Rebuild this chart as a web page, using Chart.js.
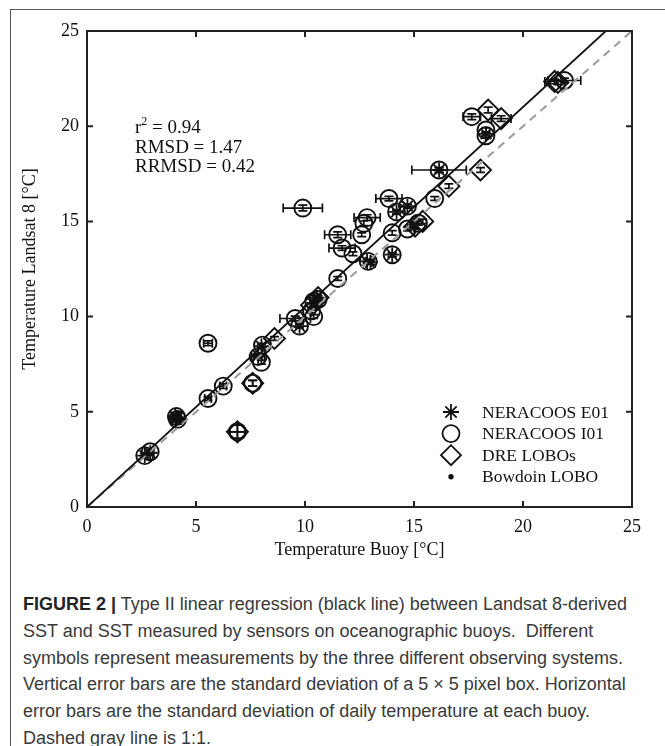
<!DOCTYPE html>
<html>
<head>
<meta charset="utf-8">
<script src="https://cdn.jsdelivr.net/npm/chart.js@4.4.0/dist/chart.umd.min.js"></script>
<style>
  html, body { margin: 0; padding: 0; background: #fff; }
  body { width: 665px; height: 746px; position: relative; overflow: hidden; }
  #marco { position: absolute; left: 10px; top: 9px; width: 670px; height: 760px; border-top: 1.5px solid #555; border-left: 1.5px solid #555; }
  #grafica { position: absolute; left: 0; top: 0; width: 665px; height: 570px; }
  #stats { position: absolute; left: 135px; top: 117px; font-family: "Liberation Serif", "Times New Roman", serif; font-size: 19px; line-height: 19.5px; color: #111; }
  #stats sup { font-size: 12px; line-height: 0; position: relative; top: -1px; }
  #pie { position: absolute; left: 23px; top: 591px; white-space: nowrap; font-family: "Liberation Sans", Arial, sans-serif; font-size: 18px; line-height: 26.8px; color: #3a3a3a; }
  #pie b { color: #222; }
</style>
</head>
<body>
<div id="marco"></div>
<div id="grafica"><canvas id="miGrafica"></canvas></div>
<div id="stats">r<sup>2</sup> = 0.94<br>RMSD = 1.47<br>RRMSD = 0.42</div>
<div id="pie"><b>FIGURE 2 |</b> Type II linear regression (black line) between Landsat 8-derived<br>SST and SST measured by sensors on oceanographic buoys.&nbsp; Different<br>symbols represent measurements by the three different observing systems.<br>Vertical error bars are the standard deviation of a 5 × 5 pixel box. Horizontal<br>error bars are the standard deviation of daily temperature at each buoy.<br>Dashed gray line is 1:1.</div>
<script>
// marcas de los ejes
const marcas = [0, 5, 10, 15, 20, 25];

// NERACOOS E01 (asterisco)
const e01X = [16.15, 14.2, 14.7, 14.0, 12.85, 13.0, 10.4, 10.55, 9.75, 8.0, 7.85, 4.05, 4.15, 4.1, 4.1, 2.65, 2.9, 15.0, 18.3];
const e01Y = [17.7, 15.5, 15.8, 13.25, 12.9, 12.85, 10.7, 11.0, 9.5, 8.45, 7.95, 4.75, 4.7, 4.6, 4.68, 2.7, 2.85, 14.8, 19.6];
const e01ErrX = [1.25, 0, 0, 0, 0, 0, 0, 0, 0, 0, 0, 0, 0, 0, 0, 0, 0, 0, 0];
const e01ErrY = [0.12, 0.1, 0.1, 0.1, 0.1, 0.1, 0.1, 0.1, 0.1, 0.1, 0.1, 0.1, 0.1, 0.1, 0.1, 0.1, 0.1, 0.1, 0.1];

// NERACOOS I01 (circulo)
const i01X = [21.9, 17.65, 18.3, 18.3, 13.85, 15.95, 14.2, 14.7, 9.9, 12.85, 12.7, 11.5, 12.6, 11.7, 12.2, 12.9, 14.0, 14.0, 14.7, 15.2, 11.5, 10.4, 10.6, 10.3, 10.4, 9.55, 9.75, 5.55, 8.05, 7.85, 8.0, 6.25, 5.55, 4.1, 4.15, 2.65, 2.9, 7.6, 6.9, 16.15];
const i01Y = [22.4, 20.5, 19.8, 19.5, 16.2, 16.2, 15.5, 15.8, 15.7, 15.2, 14.9, 14.3, 14.3, 13.6, 13.3, 12.9, 14.4, 13.25, 14.6, 14.9, 12.0, 10.8, 10.9, 10.3, 10.0, 9.9, 9.5, 8.6, 8.5, 7.9, 7.6, 6.35, 5.7, 4.75, 4.6, 2.7, 2.9, 6.5, 3.95, 17.7];
const i01ErrX = [0.75, 0.4, 0, 0, 0.6, 0, 0, 0, 0.9, 0.6, 0, 0.6, 0, 0.6, 0, 0, 0, 0, 0, 0, 0, 0, 0, 0, 0, 0.7, 0, 0.2, 0, 0.3, 0, 0.15, 0.15, 0.15, 0, 0, 0, 0, 0.35, 0];
const i01ErrY = [0.12, 0.15, 0.12, 0.12, 0.12, 0.1, 0.1, 0.1, 0.15, 0.15, 0.12, 0.15, 0.1, 0.12, 0.1, 0.1, 0.12, 0.1, 0.1, 0.1, 0.1, 0.1, 0.1, 0.1, 0.1, 0.12, 0.1, 0.12, 0.1, 0.1, 0.1, 0.12, 0.1, 0.1, 0.1, 0.1, 0.1, 0.15, 0.35, 0.12];

// DRE LOBOs (rombo)
const dreX = [21.45, 21.6, 18.4, 19.0, 18.05, 16.6, 15.4, 15.05, 10.6, 10.3, 8.6, 7.6, 6.9];
const dreY = [22.35, 22.3, 20.85, 20.4, 17.7, 16.85, 15.0, 14.75, 11.0, 10.6, 8.85, 6.5, 3.95];
const dreErrX = [0.45, 0, 0, 0.45, 0, 0, 0, 0, 0, 0, 0, 0, 0.35];
const dreErrY = [0.12, 0.12, 0.15, 0.15, 0.12, 0.12, 0.12, 0.12, 0.1, 0.1, 0.1, 0.15, 0.35];

// Bowdoin LOBO (punto)
const bowX = [7.9, 10.45, 12.9, 4.1];
const bowY = [8.0, 10.6, 12.9, 4.7];

// regresion tipo II y linea 1:1
const regX = [0, 23.8];
const regY = [0, 25];
const unoX = [0, 25];
const unoY = [0, 25];

const puntos = (xs, ys) => xs.map((x, i) => ({ x: x, y: ys[i] }));

const fuente = '"Liberation Serif", "Times New Roman", serif';
const negro = '#111';

// barras de error, dibujadas con las escalas del grafico
const barrasError = {
    id: 'barrasError',
    beforeDatasetsDraw(chart) {
        const ctx = chart.ctx;
        const sx = chart.scales.x, sy = chart.scales.y;
        const tapa = 4.5;
        ctx.save();
        ctx.strokeStyle = negro;
        ctx.lineWidth = 1.7;
        chart.data.datasets.forEach((d) => {
            if (!d.errX) return;
            d.data.forEach((p, i) => {
                const px = sx.getPixelForValue(p.x);
                const py = sy.getPixelForValue(p.y);
                ctx.beginPath();
                if (d.errX[i] > 0) {
                    const x1 = sx.getPixelForValue(p.x - d.errX[i]);
                    const x2 = sx.getPixelForValue(p.x + d.errX[i]);
                    ctx.moveTo(x1, py); ctx.lineTo(x2, py);
                    ctx.moveTo(x1, py - tapa); ctx.lineTo(x1, py + tapa);
                    ctx.moveTo(x2, py - tapa); ctx.lineTo(x2, py + tapa);
                }
                if (d.errY[i] > 0) {
                    const y1 = sy.getPixelForValue(p.y - d.errY[i]);
                    const y2 = sy.getPixelForValue(p.y + d.errY[i]);
                    ctx.moveTo(px, y1); ctx.lineTo(px, y2);
                    ctx.moveTo(px - tapa, y1); ctx.lineTo(px + tapa, y1);
                    ctx.moveTo(px - tapa, y2); ctx.lineTo(px + tapa, y2);
                }
                ctx.stroke();
            });
        });
        ctx.restore();
    }
};

// recuadro con marcas hacia adentro en los cuatro lados
const recuadro = {
    id: 'recuadro',
    afterDraw(chart) {
        const ctx = chart.ctx;
        const a = chart.chartArea;
        const sx = chart.scales.x, sy = chart.scales.y;
        ctx.save();
        ctx.strokeStyle = '#222';
        ctx.lineWidth = 2;
        ctx.strokeRect(a.left, a.top, a.right - a.left, a.bottom - a.top);
        ctx.beginPath();
        marcas.forEach((v) => {
            const px = sx.getPixelForValue(v);
            const py = sy.getPixelForValue(v);
            ctx.moveTo(px, a.bottom); ctx.lineTo(px, a.bottom - 6);
            ctx.moveTo(px, a.top); ctx.lineTo(px, a.top + 6);
            ctx.moveTo(a.left, py); ctx.lineTo(a.left + 6, py);
            ctx.moveTo(a.right, py); ctx.lineTo(a.right - 6, py);
        });
        ctx.stroke();
        ctx.restore();
    }
};

// leyenda dentro del area del grafico, abajo a la derecha
const leyenda = {
    id: 'leyenda',
    afterDraw(chart) {
        const ctx = chart.ctx;
        const a = chart.chartArea;
        const series = chart.data.datasets.filter((d) => d.enLeyenda);
        ctx.save();
        ctx.font = '17.5px ' + fuente;
        ctx.textBaseline = 'middle';
        ctx.textAlign = 'left';
        series.forEach((d, i) => {
            const x = a.right - 181;
            const y = a.bottom - 95 + i * 21.6;
            ctx.strokeStyle = negro;
            ctx.fillStyle = d.leyendaRelleno;
            ctx.lineWidth = 1.8;
            Chart.helpers.drawPoint(ctx, { pointStyle: d.pointStyle, radius: d.leyendaRadio, borderWidth: 1.8, rotation: 0 }, x, y);
            ctx.fillStyle = negro;
            ctx.fillText(d.label, a.right - 150, y + 1);
        });
        ctx.restore();
    }
};

document.addEventListener('DOMContentLoaded', () => {
    const datos = {
        datasets: [
            {
                label: 'regresion',
                data: puntos(regX, regY),
                showLine: true,
                borderColor: negro,
                borderWidth: 1.8,
                pointRadius: 0,
            },
            {
                label: '1:1',
                data: puntos(unoX, unoY),
                showLine: true,
                borderColor: '#9a9a9a',
                borderWidth: 2,
                borderDash: [8, 6],
                pointRadius: 0,
            },
            {
                label: 'NERACOOS E01',
                data: puntos(e01X, e01Y),
                errX: e01ErrX,
                errY: e01ErrY,
                pointStyle: 'star',
                pointRadius: 7.5,
                pointBorderWidth: 1.8,
                borderColor: negro,
                backgroundColor: 'rgba(0,0,0,0)',
                enLeyenda: true,
                leyendaRadio: 8,
                leyendaRelleno: 'rgba(0,0,0,0)',
            },
            {
                label: 'NERACOOS I01',
                data: puntos(i01X, i01Y),
                errX: i01ErrX,
                errY: i01ErrY,
                pointStyle: 'circle',
                pointRadius: 8.5,
                pointBorderWidth: 1.9,
                borderColor: negro,
                backgroundColor: 'rgba(0,0,0,0)',
                enLeyenda: true,
                leyendaRadio: 8.5,
                leyendaRelleno: 'rgba(0,0,0,0)',
            },
            {
                label: 'DRE LOBOs',
                data: puntos(dreX, dreY),
                errX: dreErrX,
                errY: dreErrY,
                pointStyle: 'rectRot',
                pointRadius: 10.5,
                pointBorderWidth: 1.9,
                borderColor: negro,
                backgroundColor: 'rgba(0,0,0,0)',
                enLeyenda: true,
                leyendaRadio: 10,
                leyendaRelleno: 'rgba(0,0,0,0)',
            },
            {
                label: 'Bowdoin LOBO',
                data: puntos(bowX, bowY),
                pointStyle: 'circle',
                pointRadius: 1.8,
                pointBorderWidth: 1,
                borderColor: negro,
                backgroundColor: negro,
                enLeyenda: true,
                leyendaRadio: 1.8,
                leyendaRelleno: negro,
            },
        ],
    };

    const ejeComun = {
        type: 'linear',
        min: 0,
        max: 25,
        grid: { display: false, drawTicks: false },
        border: { display: false },
        afterBuildTicks: (s) => { s.ticks = marcas.map((v) => ({ value: v })); },
    };

    const config = {
        type: 'scatter',
        data: datos,
        options: {
            responsive: true,
            maintainAspectRatio: false,
            animation: false,
            layout: { padding: { left: 0, right: 33, top: 31, bottom: 0 } },
            plugins: {
                legend: { display: false },
                tooltip: { enabled: false },
            },
            scales: {
                x: Object.assign({}, ejeComun, {
                    ticks: { padding: 9, color: negro, font: { family: fuente, size: 18 } },
                    title: { display: true, text: 'Temperature Buoy [°C]', color: negro, padding: { top: 4, bottom: 9 }, font: { family: fuente, size: 18 } },
                    afterFit: (s) => { s.height = 63; },
                }),
                y: Object.assign({}, ejeComun, {
                    ticks: { padding: 8, color: negro, font: { family: fuente, size: 18 } },
                    title: { display: true, text: 'Temperature Landsat 8 [°C]', color: negro, padding: { top: 19, bottom: 4 }, font: { family: fuente, size: 18 } },
                    afterFit: (s) => { s.width = 87; },
                }),
            },
        },
        plugins: [barrasError, recuadro, leyenda],
    };

    const miGrafica = new Chart(document.getElementById('miGrafica'), config);
});
</script>
</body>
</html>
